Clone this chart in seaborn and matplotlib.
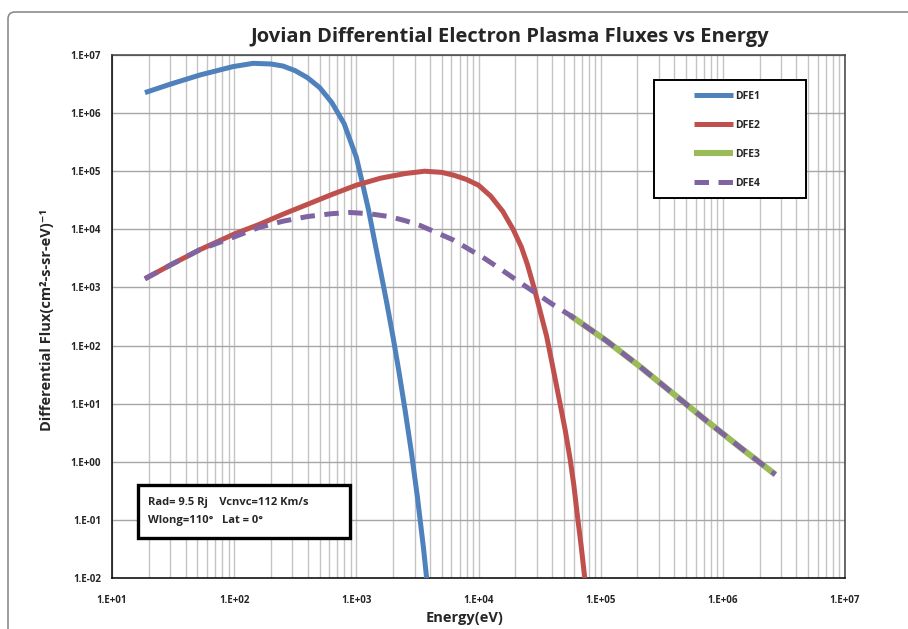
import math
import matplotlib
matplotlib.use("Agg")
import matplotlib.pyplot as plt
import seaborn as sns
from matplotlib import font_manager
from matplotlib.patches import FancyBboxPatch, Rectangle
from matplotlib.transforms import IdentityTransform
from matplotlib.ticker import FixedLocator, FuncFormatter, NullFormatter, LogLocator

# ---- data: energy (eV) and differential flux (cm^2-s-sr-eV)^-1 ----
dfe1_energy = [18.6, 29.9, 52.5, 97.7, 143, 200, 251, 316, 398, 501, 631,
               794, 1000, 1120, 1260, 1410, 1580, 1780, 2000, 2240, 2510,
               2820, 3160, 3550, 3760]
dfe1_flux = [2.25e6, 3.14e6, 4.53e6, 6.31e6, 7.19e6, 7.0e6, 6.46e6, 5.37e6,
             4.07e6, 2.75e6, 1.51e6, 6.6e5, 1.74e5, 6.3e4, 2.14e4, 6.3e3,
             1.9e3, 525, 138, 34, 7.6, 1.48, 0.25, 0.032, 0.01]

dfe2_energy = [18.6, 31.6, 52.5, 100, 158, 251, 398, 631, 1000, 1580, 2510,
               3630, 5010, 6310, 7940, 10000, 12600, 15800, 19200, 22400,
               25100, 28800, 31600, 36100, 39800, 46300, 51300, 56200, 60300,
               64600, 69200, 74100]
dfe2_flux = [1.41e3, 2.57e3, 4.47e3, 8.3e3, 1.2e4, 1.82e4, 2.69e4, 3.98e4,
             5.75e4, 7.59e4, 9.12e4, 1.0e5, 9.55e4, 8.51e4, 7.24e4, 5.75e4,
             3.72e4, 2.04e4, 1.0e4, 5.0e3, 2.51e3, 912, 427, 145, 52.5, 10.5,
             3.47, 1.12, 0.398, 0.115, 0.036, 0.01]

dfe3_energy = [56200, 112000, 209000, 389000, 741000, 1380000, 2690000]
dfe3_flux = [331, 120, 43.7, 15.1, 5.01, 1.78, 0.603]

dfe4_energy = [18.6, 31.6, 52.5, 100, 158, 251, 398, 631, 891, 1260, 1860,
               2510, 3310, 4470, 6170, 8320, 11200, 14800, 19100, 25100,
               31600, 41700, 56200, 112000, 209000, 389000, 741000, 1380000,
               2690000]
dfe4_flux = [1.41e3, 2.57e3, 4.47e3, 7.41e3, 1.07e4, 1.38e4, 1.66e4, 1.86e4,
             1.95e4, 1.86e4, 1.66e4, 1.41e4, 1.17e4, 8.91e3, 6.61e3, 4.57e3,
             3.16e3, 2.14e3, 1.48e3, 1.0e3, 724, 490, 331, 120, 43.7, 15.1,
             5.01, 1.78, 0.603]

series_names = ["DFE1", "DFE2", "DFE3", "DFE4"]
series_colors = ["#4F81BD", "#C0504D", "#9BBB59", "#8064A2"]
x_decades = [1, 2, 3, 4, 5, 6, 7]
y_decades = [-2, -1, 0, 1, 2, 3, 4, 5, 6, 7]
info_lines = ["Rad= 9.5 Rj    Vcnvc=112 Km/s", "Wlong=110\u00b0   Lat = 0\u00b0"]

# ---- style ----
sns.set_style("white")
installed = {f.name for f in font_manager.fontManager.ttflist}
main_font = "Liberation Sans Narrow" if "Liberation Sans Narrow" in installed else "Open Sans"
plt.rcParams["font.family"] = [main_font, "DejaVu Sans"]
plt.rcParams["font.weight"] = "bold"

W, H = 908, 629
fig = plt.figure(figsize=(W / 100, H / 100), dpi=100)
fig.patch.set_facecolor("white")

# rounded chart-area frame
frame = FancyBboxPatch((8, -30), 980, H - 12 + 30,
                       boxstyle="round,pad=0,rounding_size=7",
                       transform=IdentityTransform(), facecolor="none",
                       edgecolor="#8c8c8c", linewidth=1.2, zorder=0)
fig.patches.append(frame)

L, R, T, B = 112, 845, 55, 578
ax = fig.add_axes([L / W, 1 - B / H, (R - L) / W, (B - T) / H])
ax.set_xscale("log")
ax.set_yscale("log")

series = [(dfe1_energy, dfe1_flux, 3.6), (dfe2_energy, dfe2_flux, 3.6),
          (dfe3_energy, dfe3_flux, 4.4), (dfe4_energy, dfe4_flux, 3.6)]
for (xs, ys, lw), name, col in zip(series, series_names, series_colors):
    sns.lineplot(x=xs, y=ys, ax=ax, color=col, lw=lw, label=name,
                 sort=False, estimator=None, zorder=5)

lines = ax.get_lines()
for ln in lines[:3]:
    ln.set_solid_capstyle("butt")
lines[3].set_dashes((2.9, 1.9))
lines[3].set_dash_capstyle("butt")
lines[3].set_zorder(6)

ax.set_xlim(10 ** x_decades[0], 10 ** x_decades[-1])
ax.set_ylim(10.0 ** y_decades[0], 10.0 ** y_decades[-1])

fmt = FuncFormatter(lambda v, p: "1.E%+03d" % round(math.log10(v)))
ax.xaxis.set_major_locator(FixedLocator([10.0 ** d for d in x_decades]))
ax.yaxis.set_major_locator(FixedLocator([10.0 ** d for d in y_decades]))
ax.xaxis.set_major_formatter(fmt)
ax.yaxis.set_major_formatter(fmt)
ax.xaxis.set_minor_locator(LogLocator(base=10, subs=range(2, 10), numticks=50))
ax.xaxis.set_minor_formatter(NullFormatter())
ax.yaxis.set_minor_locator(FixedLocator([]))

ax.grid(which="major", axis="y", color="#a6a6a6", lw=1.0)
ax.grid(which="both", axis="x", color="#c4c4c4", lw=1.0)
ax.set_axisbelow(True)

ax.tick_params(axis="x", which="major", direction="out", length=5, width=1,
               color="black", pad=7, labelsize=7)
ax.tick_params(axis="x", which="minor", length=0)
ax.tick_params(axis="y", which="major", direction="out", length=4, width=1,
               color="black", pad=4, labelsize=7)
for lab in ax.get_xticklabels() + ax.get_yticklabels():
    lab.set_fontweight("bold")

for side in ("left", "bottom"):
    ax.spines[side].set_color("black")
    ax.spines[side].set_linewidth(1.1)
for side in ("top", "right"):
    ax.spines[side].set_color("#404040")
    ax.spines[side].set_linewidth(1.1)

# titles and axis labels
fig.text(510 / W, 1 - 37 / H, "Jovian Differential Electron Plasma Fluxes vs Energy",
         ha="center", va="center", fontsize=14.5, fontweight="bold")
fig.text(47 / W, 1 - 320 / H, "Differential Flux(cm\u00b2-s-sr-eV)\u207b\u00b9",
         ha="center", va="center", rotation=90, fontsize=10.5, fontweight="bold")
fig.text(465 / W, 1 - 618 / H, "Energy(eV)", ha="center", va="center",
         fontsize=10.5, fontweight="bold")

# legend box
ax.add_patch(Rectangle((654 / W, 1 - 198 / H), 152 / W, 118 / H,
                       transform=fig.transFigure, facecolor="white",
                       edgecolor="black", lw=1.4, zorder=15, clip_on=False))
leg = ax.legend(loc="upper left", bbox_to_anchor=(694 / W, 1 - 91 / H),
                bbox_transform=fig.transFigure, frameon=False, fontsize=7.5,
                handlelength=3.7, handletextpad=0.25, labelspacing=1.72,
                borderpad=0, borderaxespad=0)
leg.set_zorder(20)
for txt in leg.get_texts():
    txt.set_fontweight("bold")

# info box
ax.add_patch(Rectangle((138 / W, 1 - 538 / H), 212 / W, 53 / H,
                       transform=fig.transFigure, facecolor="white",
                       edgecolor="black", lw=2.4, zorder=15, clip_on=False))
fig.text(148 / W, 1 - 502 / H, info_lines[0], ha="left", va="center",
         fontsize=8, fontweight="bold", zorder=20)
fig.text(148 / W, 1 - 520 / H, info_lines[1], ha="left", va="center",
         fontsize=8, fontweight="bold", zorder=20)

fig.savefig("out.png", dpi=100)
